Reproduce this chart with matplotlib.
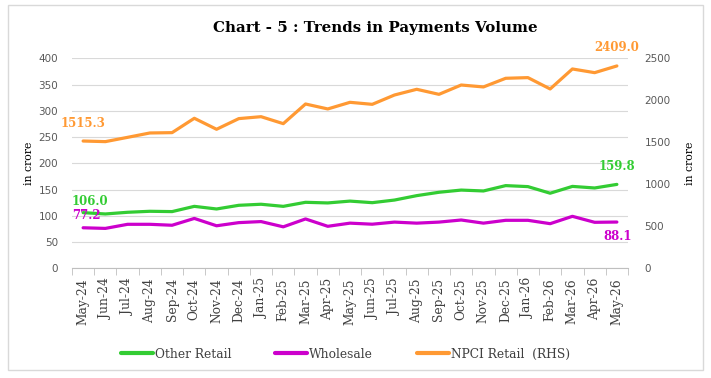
import numpy as np
import matplotlib
matplotlib.use("Agg")
import matplotlib.pyplot as plt
from matplotlib.patches import Rectangle

# ---- data ----
months = ["May-24", "Jun-24", "Jul-24", "Aug-24", "Sep-24", "Oct-24", "Nov-24",
          "Dec-24", "Jan-25", "Feb-25", "Mar-25", "Apr-25", "May-25", "Jun-25",
          "Jul-25", "Aug-25", "Sep-25", "Oct-25", "Nov-25", "Dec-25", "Jan-26",
          "Feb-26", "Mar-26", "Apr-26", "May-26"]

other_retail = [106.0, 103.5, 106.7, 108.6, 108.0, 118.0, 113.0, 120.0, 122.0,
                118.0, 125.7, 124.5, 128.0, 125.0, 130.0, 138.4, 144.8, 149.0,
                147.3, 157.5, 155.6, 143.0, 156.0, 153.0, 159.8]

wholesale = [77.2, 76.0, 83.8, 83.8, 82.0, 95.0, 81.0, 87.0, 89.0, 79.0, 94.0,
             80.0, 86.0, 84.0, 88.0, 86.0, 88.0, 92.0, 86.0, 91.4, 91.4, 85.0,
             99.0, 87.6, 88.1]

npci_retail = [1515.3, 1508, 1559, 1611, 1615, 1786, 1655, 1782, 1805, 1722,
               1956, 1897, 1976, 1952, 2063, 2131, 2071, 2182, 2159, 2262, 2270,
               2135, 2373, 2329, 2409.0]

c_green = "#33cc33"
c_mag = "#cc00cc"
c_orange = "#ff9933"
serif = "DejaVu Serif"
txt_grey = "#404040"

fig = plt.figure(figsize=(7.11, 3.78), dpi=100)
fig.patch.set_facecolor("white")

# outer chart border
fig.patches.append(Rectangle((8 / 711, 1 - 370 / 378), 695 / 711, 365 / 378,
                             transform=fig.transFigure, fill=False,
                             edgecolor="#d9d9d9", linewidth=1.0))

ax = fig.add_axes([72 / 711, 1 - 268.3 / 378, 556 / 711, 210 / 378])
ax2 = ax.twinx()

x = np.arange(len(months))
ax.plot(x, other_retail, color=c_green, lw=2.3, label="Other Retail", solid_capstyle="round")
ax.plot(x, wholesale, color=c_mag, lw=2.3, label="Wholesale", solid_capstyle="round")
ax2.plot(x, npci_retail, color=c_orange, lw=2.3, label="NPCI Retail  (RHS)", solid_capstyle="round")

ax.set_xlim(-0.5, len(months) - 0.5)
ax.set_ylim(0, 400)
ax2.set_ylim(0, 2500)
ax.set_yticks(np.arange(0, 401, 50))
ax2.set_yticks(np.arange(0, 2501, 500))

ax.grid(axis="y", color="#d9d9d9", lw=0.8)
ax.set_axisbelow(True)

for a in (ax, ax2):
    for s in ("top", "left", "right"):
        a.spines[s].set_visible(False)
    a.spines["bottom"].set_color("#bfbfbf")
ax2.spines["bottom"].set_visible(False)

ax.set_xticks(x)
ax.set_xticklabels(months, rotation=90, fontfamily=serif, fontsize=8.8, color=txt_grey)
ax.set_xticks(np.arange(-0.5, len(months), 1), minor=True)
ax.tick_params(axis="x", which="major", length=0, pad=7)
ax.tick_params(axis="x", which="minor", length=5, color="#bfbfbf", direction="out")
ax.tick_params(axis="y", length=0, labelsize=7.5, labelcolor="#595959", pad=10)
ax2.tick_params(axis="y", length=0, labelsize=7.5, labelcolor="#595959", pad=12)

ax.set_ylabel("in crore", fontfamily=serif, fontsize=7.8, color="black", labelpad=3)
ax2.set_ylabel("in crore", fontfamily=serif, fontsize=7.8, color="black", labelpad=10)

# data labels at the ends
def lab(a, i, v, c, dx, dy, ha="center"):
    a.annotate(f"{v:.1f}", (x[i], v), xytext=(dx, dy), textcoords="offset pixels",
               ha=ha, va="center", color=c, fontfamily=serif, fontweight="bold",
               fontsize=8.5)

lab(ax2, 0, npci_retail[0], c_orange, 0, 18)
lab(ax, 0, other_retail[0], c_green, 7, 11)
lab(ax, 0, wholesale[0], c_mag, 3, 12)
lab(ax2, -1, npci_retail[-1], c_orange, 0, 18)
lab(ax, -1, other_retail[-1], c_green, 0, 18)
lab(ax, -1, wholesale[-1], c_mag, 1, -14)

fig.text(375.5 / 711, 1 - 28 / 378, "Chart - 5 : Trends in Payments Volume",
         ha="center", va="center", fontfamily=serif, fontweight="bold",
         fontsize=10.8, color="black")

h1, l1 = ax.get_legend_handles_labels()
h2, l2 = ax2.get_legend_handles_labels()
leg = fig.legend(h1 + h2, l1 + l2, loc="center", bbox_to_anchor=(345.5 / 711, 1 - 354 / 378),
                 ncol=3, frameon=False, handlelength=2.6, handletextpad=0.15,
                 columnspacing=3.6, prop={"family": serif, "size": 8.8})
for t in leg.get_texts():
    t.set_color(txt_grey)
for h in leg.get_lines():
    h.set_linewidth(3)

fig.savefig("out.png", dpi=100)
